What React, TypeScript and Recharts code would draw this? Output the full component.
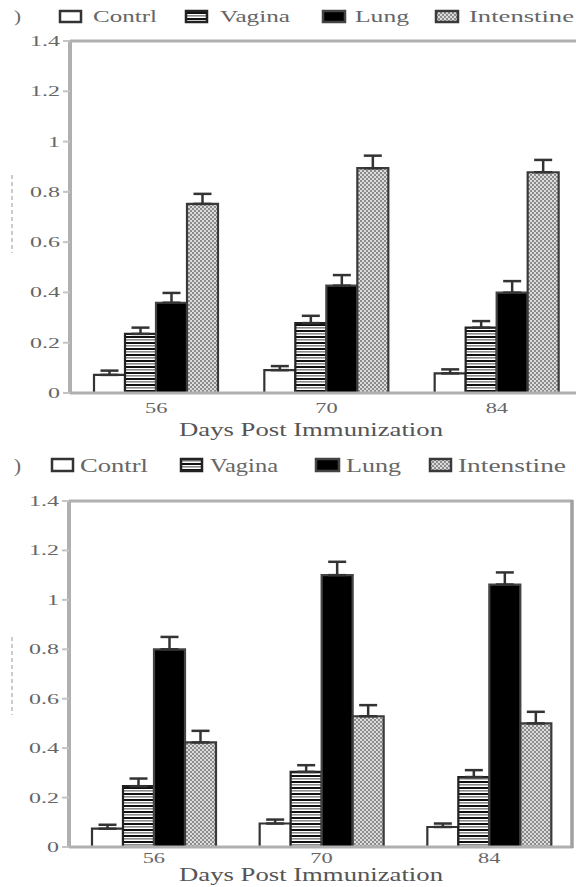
import { BarChart, Bar, XAxis, YAxis, ErrorBar, Label, ReferenceLine } from "recharts";

const days = ["56", "70", "84"];
const yTicks = [0, 0.2, 0.4, 0.6, 0.8, 1, 1.2, 1.4];
const seriesNames = ["Contrl", "Vagina", "Lung", "Intenstine"];
const axisTitle = "Days Post Immunization";

// panel a (top)
const aControl = [0.072, 0.091, 0.078];
const aControlErr = [0.017, 0.016, 0.016];
const aVagina = [0.235, 0.278, 0.26];
const aVaginaErr = [0.025, 0.029, 0.026];
const aLung = [0.359, 0.427, 0.399];
const aLungErr = [0.039, 0.042, 0.046];
const aIntestine = [0.752, 0.894, 0.878];
const aIntestineErr = [0.04, 0.05, 0.049];

// panel b (bottom)
const bControl = [0.074, 0.095, 0.081];
const bControlErr = [0.016, 0.016, 0.014];
const bVagina = [0.246, 0.304, 0.283];
const bVaginaErr = [0.031, 0.027, 0.028];
const bLung = [0.8, 1.1, 1.062];
const bLungErr = [0.05, 0.054, 0.049];
const bIntestine = [0.423, 0.529, 0.5];
const bIntestineErr = [0.047, 0.045, 0.047];

const build = (c: number[], ce: number[], v: number[], ve: number[], l: number[], le: number[], i: number[], ie: number[]) =>
  days.map((day, k) => ({
    day,
    control: c[k],
    controlErr: [0, ce[k]],
    vagina: v[k],
    vaginaErr: [0, ve[k]],
    lung: l[k],
    lungErr: [0, le[k]],
    intestine: i[k],
    intestineErr: [0, ie[k]],
  }));

const dataA = build(aControl, aControlErr, aVagina, aVaginaErr, aLung, aLungErr, aIntestine, aIntestineErr);
const dataB = build(bControl, bControlErr, bVagina, bVaginaErr, bLung, bLungErr, bIntestine, bIntestineErr);

const FONT = "'Liberation Serif', 'Times New Roman', serif";
const FRAME = "#b0b0b0";
const TEXT = "#666";

const fills = ["#ffffff", "url(#stripes)", "#000000", "url(#checker)"];
const strokes = ["#333", "#222", "#444", "#3a3a3a"];

function Patterns() {
  return (
    <svg width={0} height={0} style={{ position: "absolute" }}>
      <defs>
        <pattern id="stripes" patternUnits="userSpaceOnUse" width={6} height={6}>
          <rect width={6} height={6} fill="#fff" />
          <rect y={0} width={6} height={2} fill="#111" />
          <rect y={3} width={6} height={1.6} fill="#8a8a8a" />
        </pattern>
        <pattern id="checker" patternUnits="userSpaceOnUse" width={4} height={4}>
          <rect width={4} height={4} fill="#dcdcdc" />
          <rect x={0} y={0} width={2} height={2} fill="#8c8c8c" />
          <rect x={2} y={2} width={2} height={2} fill="#8c8c8c" />
        </pattern>
      </defs>
    </svg>
  );
}

type LegendLayout = {
  y: number;
  boxH: number;
  baseline: number;
  fontSize: number;
  paren: number;
  boxes: number[][];
  texts: number[][];
};

function PanelLegend({ lay }: { lay: LegendLayout }) {
  return (
    <svg width={576} height={40} style={{ position: "absolute", left: 0, top: 0 }}>
      <text x={lay.paren} y={lay.baseline} fontFamily={FONT} fontSize={lay.fontSize} fill={TEXT} textLength={7} lengthAdjust="spacingAndGlyphs">
        )
      </text>
      {seriesNames.map((name, k) => (
        <g key={name}>
          <rect
            x={lay.boxes[k][0]}
            y={lay.y}
            width={lay.boxes[k][1]}
            height={lay.boxH}
            fill={fills[k]}
            stroke={strokes[k]}
            strokeWidth={2.5}
          />
          <text
            x={lay.texts[k][0]}
            y={lay.baseline}
            fontFamily={FONT}
            fontSize={lay.fontSize}
            fill={TEXT}
            textLength={lay.texts[k][1]}
            lengthAdjust="spacingAndGlyphs"
          >
            {name}
          </text>
        </g>
      ))}
    </svg>
  );
}

const YTick = (props: any) => {
  const { x, y, payload } = props;
  return (
    <g transform={`translate(${x},${y})`}>
      <text transform="scale(1.6,1)" textAnchor="end" dy={5} fontFamily={FONT} fontSize={15} fill={TEXT}>
        {payload.value}
      </text>
    </g>
  );
};

const makeXTick = (dy: number) => (props: any) => {
  const { x, y, payload } = props;
  return (
    <g transform={`translate(${x},${y})`}>
      <text transform="scale(1.6,1)" textAnchor="middle" dy={dy} fontFamily={FONT} fontSize={14} fill={TEXT}>
        {payload.value}
      </text>
    </g>
  );
};

function Panel({ data, width, height, margin, yWidth, xHeight, tickDy, titleY, dash, padLeft }: any) {
  const series = ["control", "vagina", "lung", "intestine"];
  return (
    <BarChart width={width} height={height} data={data} margin={margin} barGap={0} barSize={31}>
      <XAxis
        dataKey="day"
        height={xHeight}
        tickLine={false}
        tickSize={0}
        tickMargin={0}
        tick={makeXTick(tickDy)}
        axisLine={{ stroke: FRAME, strokeWidth: 3 }}
        padding={{ left: padLeft, right: 0 }}
      >
        <Label
          content={() => (
            <text x={179} y={titleY} fontFamily={FONT} fontSize={18} fill="#555" textLength={264} lengthAdjust="spacingAndGlyphs">
              {axisTitle}
            </text>
          )}
        />
      </XAxis>
      <YAxis
        width={yWidth}
        domain={[0, 1.4]}
        ticks={yTicks}
        interval={0}
        tickSize={7}
        tickMargin={3}
        tick={<YTick />}
        tickLine={{ stroke: "#c4c4c4", strokeWidth: 2 }}
        axisLine={{ stroke: FRAME, strokeWidth: 4 }}
      >
        <Label
          content={() => (
            <line x1={12} x2={12} y1={dash[0]} y2={dash[1]} stroke="#999" strokeWidth={1} strokeDasharray="4 3" />
          )}
        />
      </YAxis>
      <ReferenceLine y={1.4} stroke={FRAME} strokeWidth={3} ifOverflow="visible" />
      {series.map((key, k) => (
        <Bar key={key} dataKey={key} fill={fills[k]} stroke={strokes[k]} strokeWidth={2.2} isAnimationActive={false}>
          <ErrorBar dataKey={`${key}Err`} width={9} stroke="#333" strokeWidth={2.5} direction="y" />
        </Bar>
      ))}
    </BarChart>
  );
}

const legendA: LegendLayout = {
  y: 11,
  boxH: 11,
  baseline: 22,
  fontSize: 17,
  paren: 14,
  boxes: [[60, 21], [186, 21], [323, 22], [436, 22]],
  texts: [[93, 64], [220, 70], [355, 54], [469, 105]],
};

const legendB: LegendLayout = {
  y: 14,
  boxH: 12,
  baseline: 27,
  fontSize: 18,
  paren: 14,
  boxes: [[52, 21], [181, 21], [316, 23], [430, 21]],
  texts: [[80, 68], [210, 68], [346, 55], [458, 108]],
};

export default function App() {
  return (
    <div style={{ position: "absolute", left: 0, top: 0, width: 576, height: 887, overflow: "hidden", background: "#fff" }}>
      <Patterns />
      <div style={{ position: "absolute", left: 0, top: 0, width: 576, height: 445, overflow: "hidden" }}>
        <Panel
          data={dataA}
          width={584}
          height={445}
          margin={{ top: 41, right: 2, left: 0, bottom: 0 }}
          yWidth={70}
          xHeight={52}
          tickDy={20}
          titleY={436}
          dash={[175, 253]}
          padLeft={1}
        />
        <PanelLegend lay={legendA} />
      </div>
      <div style={{ position: "absolute", left: 0, top: 445, width: 576, height: 442, overflow: "hidden" }}>
        <Panel
          data={dataB}
          width={576}
          height={442}
          margin={{ top: 56, right: 3, left: 0, bottom: 0 }}
          yWidth={69}
          xHeight={40}
          tickDy={16}
          titleY={436}
          dash={[192, 270]}
          padLeft={1}
        />
        <PanelLegend lay={legendB} />
        <svg width={576} height={442} style={{ position: "absolute", left: 0, top: 0, pointerEvents: "none", zIndex: 5 }}>
          <line x1={572} x2={572} y1={55} y2={403} stroke="#a0a0a0" strokeWidth={3.5} />
        </svg>
      </div>
    </div>
  );
}
